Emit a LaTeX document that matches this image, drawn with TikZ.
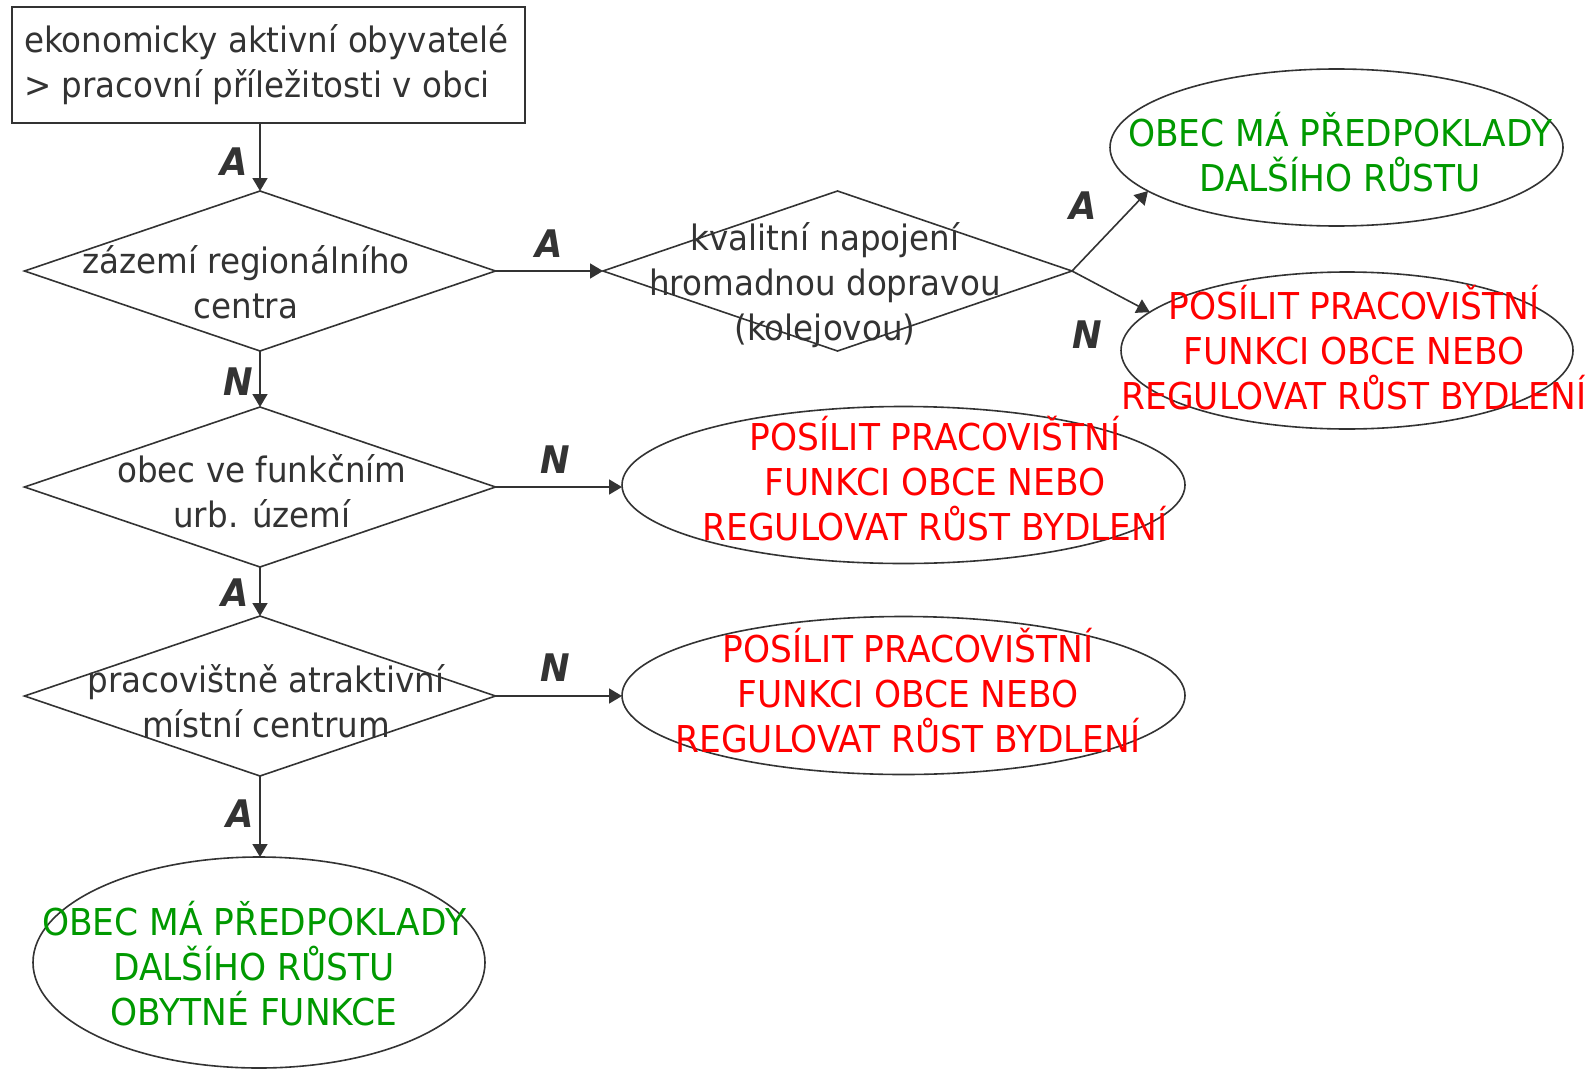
\documentclass[tikz,border=0pt]{standalone}
\usepackage{fontspec}
\setmainfont{DejaVu Sans}[FakeStretch=0.93]
\usetikzlibrary{shapes.geometric,arrows.meta}
\definecolor{ink}{HTML}{333333}
\definecolor{okgreen}{HTML}{009900}
\definecolor{badred}{HTML}{FF0000}
\begin{document}
\begin{tikzpicture}[x=1pt,y=-1pt,
  every node/.style={inner sep=0pt, outer sep=0pt},
  startbox/.style={rectangle, draw=ink, line width=1.6pt, minimum width=513pt, minimum height=116pt},
  dec/.style={diamond, draw=ink, line width=1.6pt, minimum width=471pt, minimum height=160pt},
  ell/.style={ellipse, draw=ink, line width=1.6pt},
  txt/.style={text=ink, font=\fontsize{35}{45}\selectfont, align=center},
  captxt/.style={align=center, font=\fontsize{37}{45}\selectfont},
  gtxt/.style={captxt, text=okgreen},
  rtxt/.style={captxt, text=badred},
  lab/.style={text=ink, font=\fontsize{38}{40}\selectfont\bfseries\itshape},
  conn/.style={draw=ink, line width=1.6pt, -{Triangle[length=13pt,width=15pt]}}
]
\fill[white] (0,0) rectangle (1594,1070);
\useasboundingbox (0,0) rectangle (1594,1070);

% start box
\node[startbox] (start) at (268.5,65) {};
\node[txt, align=left, anchor=west] (starttxt) at (24,65) {ekonomicky aktivní obyvatelé\\> pracovní příležitosti v obci};

% decisions
\node[dec] (d1) at (260,271) {};
\node[txt] (d1t) at (246,282) {zázemí regionálního\\centra};
\node[dec, minimum width=469pt] (d2) at (837.5,271) {};
\node[txt] (d2t) at (825,285) {kvalitní napojení\\hromadnou dopravou\\(kolejovou)};
\node[dec] (d3) at (260,487) {};
\node[txt] (d3t) at (262,491) {obec ve funkčním\\urb. území};
\node[dec] (d4) at (260,696) {};
\node[txt] (d4t) at (266,701) {pracovištně atraktivní\\místní centrum};

% outcomes
\node[ell, minimum width=453pt, minimum height=157pt] (e1) at (1336.5,147.5) {};
\node[gtxt] (e1t) at (1340,152) {OBEC MÁ PŘEDPOKLADY\\DALŠÍHO RŮSTU};
\node[ell, minimum width=452pt, minimum height=157pt] (e2) at (1347,350.5) {};
\node[rtxt] (e2t) at (1354,348) {POSÍLIT PRACOVIŠTNÍ\\FUNKCI OBCE NEBO\\REGULOVAT RŮST BYDLENÍ};
\node[ell, minimum width=563pt, minimum height=157pt] (e3) at (903.5,485) {};
\node[rtxt] (e3t) at (935,479) {POSÍLIT PRACOVIŠTNÍ\\FUNKCI OBCE NEBO\\REGULOVAT RŮST BYDLENÍ};
\node[ell, minimum width=563pt, minimum height=158pt] (e4) at (903.5,695.5) {};
\node[rtxt] (e4t) at (908,691) {POSÍLIT PRACOVIŠTNÍ\\FUNKCI OBCE NEBO\\REGULOVAT RŮST BYDLENÍ};
\node[ell, minimum width=452pt, minimum height=211pt] (e5) at (259,962.5) {};
\node[gtxt] (e5t) at (254,964) {OBEC MÁ PŘEDPOKLADY\\DALŠÍHO RŮSTU\\OBYTNÉ FUNKCE};

% connectors
\draw[conn] (d1.north |- start.south) -- (d1.north);
\draw[conn] (d1.east) -- (d2.west);
\draw[conn] (d2.east) -- (e1.193);
\draw[conn] (d2.east) -- (e2.169);
\draw[conn] (d1.south) -- (d3.north);
\draw[conn] (d3.east) -- (e3.west |- d3.east);
\draw[conn] (d3.south) -- (d4.north);
\draw[conn] (d4.east) -- (e4.west |- d4.east);
\draw[conn] (d4.south) -- (d4.south |- e5.north);

% labels
\node[lab] (l1) at (234,162) {A};
\node[lab] (l2) at (549,244) {A};
\node[lab] (l3) at (1083,206) {A};
\node[lab] (l4) at (1087,335) {N};
\node[lab] (l5) at (238,382) {N};
\node[lab] (l6) at (555,460) {N};
\node[lab] (l7) at (235,593) {A};
\node[lab] (l8) at (555,668) {N};
\node[lab] (l9) at (240,814) {A};
\end{tikzpicture}
\end{document}
